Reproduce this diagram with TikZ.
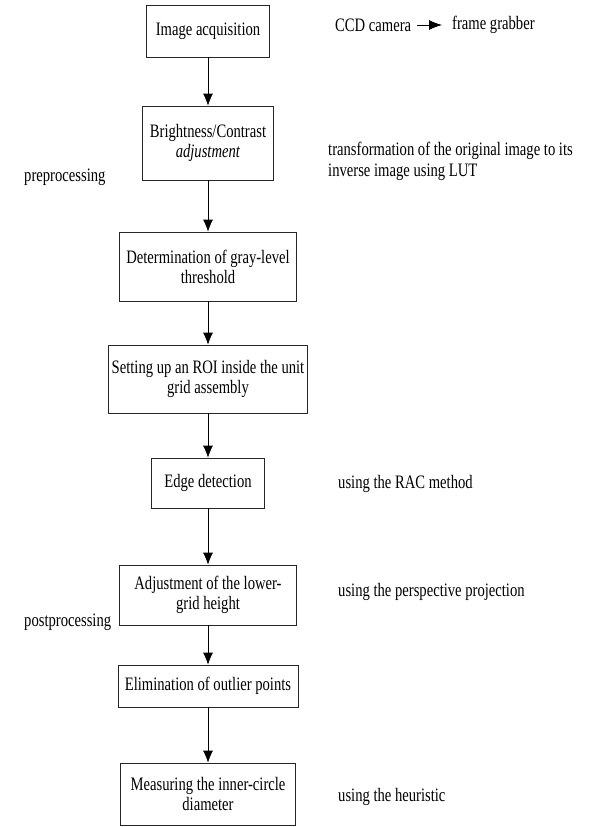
\documentclass[tikz,border=0pt]{standalone}
\usepackage{fontspec}
\setmainfont[FakeStretch=0.77]{Liberation Serif}
\usetikzlibrary{arrows.meta}
\begin{document}
\begin{tikzpicture}[x=1pt,y=-1pt,
  stepbox/.style={draw=black!85,line width=0.7pt,rectangle,inner sep=0pt,align=center,
    font=\fontsize{19}{20}\selectfont},
  lbl/.style={anchor=west,inner sep=0pt,align=left,font=\fontsize{19}{21}\selectfont},
  flow/.style={draw=black,line width=0.7pt,-{Latex[length=12pt,width=10pt]}}]
\useasboundingbox (0,0) rectangle (595,827);
\node[stepbox,minimum width=123pt,minimum height=52pt] (b1) at (208,31) {Image acquisition};
\node[stepbox,minimum width=131pt,minimum height=74pt] (b2) at (208,143) {Brightness/Contrast\\\textit{adjustment}};
\node[stepbox,minimum width=177pt,minimum height=69pt] (b3) at (208,266.5) {Determination of gray-level\\threshold};
\node[stepbox,minimum width=199pt,minimum height=68pt] (b4) at (208,379) {Setting up an ROI inside the unit\\grid assembly};
\node[stepbox,minimum width=113pt,minimum height=50pt] (b5) at (208,483) {Edge detection};
\node[stepbox,minimum width=177pt,minimum height=60pt] (b6) at (208,595) {Adjustment of the lower-\\grid height};
\node[stepbox,minimum width=180pt,minimum height=42pt] (b7) at (208,686) {Elimination of outlier points};
\node[stepbox,minimum width=175pt,minimum height=62pt] (b8) at (208,794) {Measuring the inner-circle\\diameter};
\draw[flow] (b1) -- (b2);
\draw[flow] (b2) -- (b3);
\draw[flow] (b3) -- (b4);
\draw[flow] (b4) -- (b5);
\draw[flow] (b5) -- (b6);
\draw[flow] (b6) -- (b7);
\draw[flow] (b7) -- (b8);
\node[lbl] (ccd) at (335,25) {CCD camera};
\node[lbl] (fg) at (452,25) {frame grabber};
\draw[draw=black,line width=0.8pt,-{Latex[length=13pt,width=10pt]},shorten <=6pt,shorten >=10pt] (ccd.east) -- (fg.west);
\node[lbl] (t1) at (328,161) {transformation of the original image to its\\inverse image using LUT};
\node[lbl] (t2) at (338,484) {using the RAC method};
\node[lbl] (t3) at (338,592) {using the perspective projection};
\node[lbl] (t4) at (338,797) {using the heuristic};
\node[lbl] (pre) at (24,177) {preprocessing};
\node[lbl] (post) at (24,622) {postprocessing};
\end{tikzpicture}
\end{document}
